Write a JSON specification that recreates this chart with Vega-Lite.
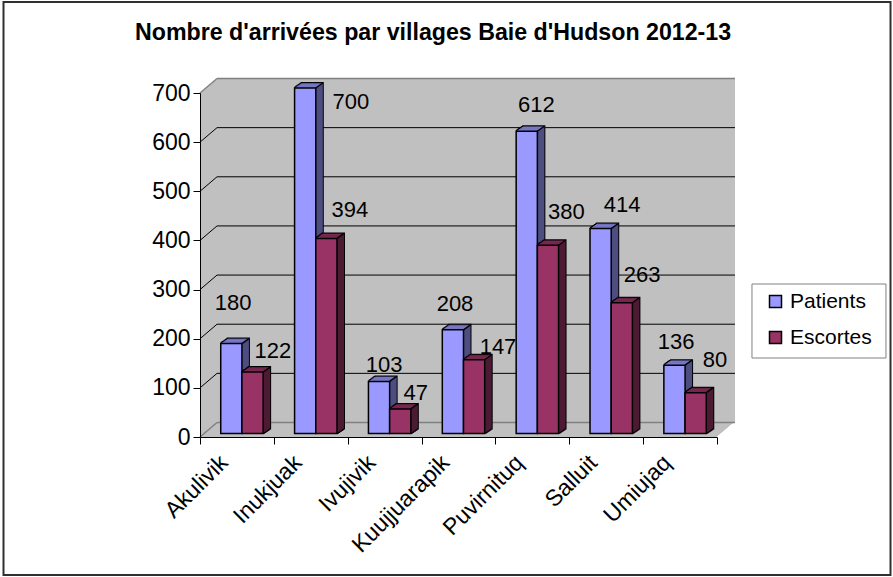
{
"$schema":"https://vega.github.io/schema/vega-lite/v6.json",
"width":517,"height":344,
"autosize":{"type":"none"},
"padding":{"left":200,"top":93,"right":176,"bottom":140},
"background":"#ffffff",
"config":{"view":{"stroke":null},"font":"Liberation Sans"},
"title":{"text":"Nombre d'arrivées par villages Baie d'Hudson 2012-13","font":"Liberation Sans","fontSize":23.2,"fontWeight":"bold","color":"#000000","anchor":"start","frame":"group","dx":-65,"offset":-44},
"data":{"values":[
{"village":"Akulivik","serie":"Patients","value":180},{"village":"Akulivik","serie":"Escortes","value":122},
{"village":"Inukjuak","serie":"Patients","value":700},{"village":"Inukjuak","serie":"Escortes","value":394},
{"village":"Ivujivik","serie":"Patients","value":103},{"village":"Ivujivik","serie":"Escortes","value":47},
{"village":"Kuujjuarapik","serie":"Patients","value":208},{"village":"Kuujjuarapik","serie":"Escortes","value":147},
{"village":"Puvirnituq","serie":"Patients","value":612},{"village":"Puvirnituq","serie":"Escortes","value":380},
{"village":"Salluit","serie":"Patients","value":414},{"village":"Salluit","serie":"Escortes","value":263},
{"village":"Umiujaq","serie":"Patients","value":136},{"village":"Umiujaq","serie":"Escortes","value":80}
]},
"encoding":{
"x":{"field":"village","type":"nominal","sort":null,"scale":{"domain":["Akulivik","Inukjuak","Ivujivik","Kuujjuarapik","Puvirnituq","Salluit","Umiujaq"],"paddingInner":0,"paddingOuter":0},"title":null,
"axis":{"zindex":1,"labelAngle":-45,"labelFontSize":23,"labelFont":"Liberation Sans","labelColor":"#000000","tickColor":"#000000","domainColor":"#000000","tickSize":7,"tickBand":"extent","labelPadding":7,"labelAlign":"right","labelBaseline":"top","labelOffset":-21,"grid":false,"labelOverlap":false}},
"y":{"field":"value","type":"quantitative","scale":{"domain":[0,700],"nice":false},"title":null,
"axis":{"zindex":1,"values":[0,100,200,300,400,500,600,700],"labelFontSize":23,"labelFont":"Liberation Sans","labelColor":"#000000","tickColor":"#000000","domainColor":"#000000","tickSize":7,"labelPadding":3,"grid":false}}
},
"layer":[
{"data":{"values":[{"village":"Kuujjuarapik","value":700}]},
"layer":[
{"mark":{"type":"bar","width":887,"fill":"#ffffff","stroke":"#303030","strokeWidth":2,"xOffset":-11.5,"yOffset":-91,"y2Offset":138},"encoding":{"y2":{"datum":0}}},
{"mark":{"type":"bar","width":517,"fill":"#C0C0C0","xOffset":0,"yOffset":0,"y2Offset":0},"encoding":{"y2":{"datum":0}}},
{"mark":{"type":"bar","width":517,"fill":"#C0C0C0","xOffset":1,"yOffset":-0.85,"y2Offset":-0.85},"encoding":{"y2":{"datum":0}}},
{"mark":{"type":"bar","width":517,"fill":"#C0C0C0","xOffset":2,"yOffset":-1.7,"y2Offset":-1.7},"encoding":{"y2":{"datum":0}}},
{"mark":{"type":"bar","width":517,"fill":"#C0C0C0","xOffset":3,"yOffset":-2.55,"y2Offset":-2.55},"encoding":{"y2":{"datum":0}}},
{"mark":{"type":"bar","width":517,"fill":"#C0C0C0","xOffset":4,"yOffset":-3.4,"y2Offset":-3.4},"encoding":{"y2":{"datum":0}}},
{"mark":{"type":"bar","width":517,"fill":"#C0C0C0","xOffset":5,"yOffset":-4.25,"y2Offset":-4.25},"encoding":{"y2":{"datum":0}}},
{"mark":{"type":"bar","width":517,"fill":"#C0C0C0","xOffset":6,"yOffset":-5.1,"y2Offset":-5.1},"encoding":{"y2":{"datum":0}}},
{"mark":{"type":"bar","width":517,"fill":"#C0C0C0","xOffset":7,"yOffset":-5.95,"y2Offset":-5.95},"encoding":{"y2":{"datum":0}}},
{"mark":{"type":"bar","width":517,"fill":"#C0C0C0","xOffset":8,"yOffset":-6.8,"y2Offset":-6.8},"encoding":{"y2":{"datum":0}}},
{"mark":{"type":"bar","width":517,"fill":"#C0C0C0","xOffset":9,"yOffset":-7.65,"y2Offset":-7.65},"encoding":{"y2":{"datum":0}}},
{"mark":{"type":"bar","width":517,"fill":"#C0C0C0","xOffset":10,"yOffset":-8.5,"y2Offset":-8.5},"encoding":{"y2":{"datum":0}}},
{"mark":{"type":"bar","width":517,"fill":"#C0C0C0","xOffset":11,"yOffset":-9.35,"y2Offset":-9.35},"encoding":{"y2":{"datum":0}}},
{"mark":{"type":"bar","width":517,"fill":"#C0C0C0","xOffset":12,"yOffset":-10.2,"y2Offset":-10.2},"encoding":{"y2":{"datum":0}}},
{"mark":{"type":"bar","width":517,"fill":"#C0C0C0","xOffset":13,"yOffset":-11.05,"y2Offset":-11.05},"encoding":{"y2":{"datum":0}}},
{"mark":{"type":"bar","width":517,"fill":"#C0C0C0","xOffset":14,"yOffset":-11.9,"y2Offset":-11.9},"encoding":{"y2":{"datum":0}}},
{"mark":{"type":"bar","width":517,"fill":"#C0C0C0","xOffset":15,"yOffset":-12.75,"y2Offset":-12.75},"encoding":{"y2":{"datum":0}}},
{"mark":{"type":"bar","width":517,"fill":"#C0C0C0","xOffset":16,"yOffset":-13.6,"y2Offset":-13.6},"encoding":{"y2":{"datum":0}}},
{"mark":{"type":"bar","width":518,"fill":"#C0C0C0","xOffset":17.5,"yOffset":-14.5,"y2Offset":-14.5},"encoding":{"y2":{"datum":0}}}
]},
{"data":{"values":[{"village":"Umiujaq","value":0}]},
"mark":{"type":"bar","width":134,"fill":"#ffffff","stroke":"#808080","strokeWidth":1,"xOffset":138.9,"yOffset":-153,"y2Offset":-79},"encoding":{"y2":{"datum":0}}},
{"data":{"values":[{"g":100},{"g":200},{"g":300},{"g":400},{"g":500},{"g":600}]},
"layer":[
{"mark":{"type":"rule","color":"#000000","strokeWidth":1,"xOffset":-36.9,"x2Offset":-19.9,"yOffset":0,"y2Offset":-14.5},"encoding":{"x":{"datum":"Akulivik"},"x2":{"datum":"Akulivik"},"y":{"field":"g","type":"quantitative"},"y2":{"field":"g"}}},
{"mark":{"type":"rule","color":"#000000","strokeWidth":1,"xOffset":-19.9,"x2Offset":54.9,"yOffset":-14.5,"y2Offset":-14.5},"encoding":{"x":{"datum":"Akulivik"},"x2":{"datum":"Umiujaq"},"y":{"field":"g","type":"quantitative"},"y2":{"field":"g"}}}
]},
{"data":{"values":[{"g":0},{"g":700}]},
"layer":[
{"mark":{"type":"rule","color":"#808080","strokeWidth":1.5,"xOffset":-36.9,"x2Offset":-19.9,"yOffset":0,"y2Offset":-14.5},"encoding":{"x":{"datum":"Akulivik"},"x2":{"datum":"Akulivik"},"y":{"field":"g","type":"quantitative"},"y2":{"field":"g"}}},
{"mark":{"type":"rule","color":"#808080","strokeWidth":1.5,"xOffset":-19.9,"x2Offset":54.9,"yOffset":-14.5,"y2Offset":-14.5},"encoding":{"x":{"datum":"Akulivik"},"x2":{"datum":"Umiujaq"},"y":{"field":"g","type":"quantitative"},"y2":{"field":"g"}}},
{"mark":{"type":"rule","color":"#808080","strokeWidth":1.5,"xOffset":-19.9,"x2Offset":-19.9,"yOffset":-14.5,"y2Offset":-14.5},"encoding":{"x":{"datum":"Akulivik"},"x2":{"datum":"Akulivik"},"y":{"datum":0},"y2":{"datum":700}}},
{"mark":{"type":"rule","color":"#808080","strokeWidth":1.5,"xOffset":54.9,"x2Offset":54.9,"yOffset":-14.5,"y2Offset":-14.5},"encoding":{"x":{"datum":"Umiujaq"},"x2":{"datum":"Umiujaq"},"y":{"datum":0},"y2":{"datum":700}}},
{"mark":{"type":"rule","color":"#808080","strokeWidth":1.5,"xOffset":36.9,"x2Offset":54.9,"yOffset":0,"y2Offset":-14.5},"encoding":{"x":{"datum":"Umiujaq"},"x2":{"datum":"Umiujaq"},"y":{"datum":0},"y2":{"datum":0}}}
]},
{"transform":[{"filter":"datum.serie=='Patients'"}],
"layer":[
{"mark":{"type":"bar","width":21.2,"fill":"#000","stroke":"#000","strokeWidth":2,"xOffset":-4.6,"yOffset":-5.71,"y2Offset":-4.21},"encoding":{"y2":{"datum":0}}},
{"mark":{"type":"bar","width":21.2,"fill":"#000","stroke":"#000","strokeWidth":2,"xOffset":-3.6,"yOffset":-6.43,"y2Offset":-4.93},"encoding":{"y2":{"datum":0}}},
{"mark":{"type":"bar","width":21.2,"fill":"#000","stroke":"#000","strokeWidth":2,"xOffset":-2.6,"yOffset":-7.14,"y2Offset":-5.64},"encoding":{"y2":{"datum":0}}},
{"mark":{"type":"bar","width":21.2,"fill":"#000","stroke":"#000","strokeWidth":2,"xOffset":-1.6,"yOffset":-7.86,"y2Offset":-6.36},"encoding":{"y2":{"datum":0}}},
{"mark":{"type":"bar","width":21.2,"fill":"#000","stroke":"#000","strokeWidth":2,"xOffset":-0.6,"yOffset":-8.57,"y2Offset":-7.07},"encoding":{"y2":{"datum":0}}},
{"mark":{"type":"bar","width":21.2,"fill":"#000","stroke":"#000","strokeWidth":2,"xOffset":0.4,"yOffset":-9.29,"y2Offset":-7.79},"encoding":{"y2":{"datum":0}}},
{"mark":{"type":"bar","width":21.2,"fill":"#000","stroke":"#000","strokeWidth":2,"xOffset":1.4,"yOffset":-10,"y2Offset":-8.5},"encoding":{"y2":{"datum":0}}},
{"mark":{"type":"bar","width":21.2,"fill":"#4D4D80","xOffset":-4.6,"yOffset":-5.71,"y2Offset":-4.21},"encoding":{"y2":{"datum":0}}},
{"mark":{"type":"bar","width":21.2,"fill":"#4D4D80","xOffset":-3.6,"yOffset":-6.43,"y2Offset":-4.93},"encoding":{"y2":{"datum":0}}},
{"mark":{"type":"bar","width":21.2,"fill":"#4D4D80","xOffset":-2.6,"yOffset":-7.14,"y2Offset":-5.64},"encoding":{"y2":{"datum":0}}},
{"mark":{"type":"bar","width":21.2,"fill":"#4D4D80","xOffset":-1.6,"yOffset":-7.86,"y2Offset":-6.36},"encoding":{"y2":{"datum":0}}},
{"mark":{"type":"bar","width":21.2,"fill":"#4D4D80","xOffset":-0.6,"yOffset":-8.57,"y2Offset":-7.07},"encoding":{"y2":{"datum":0}}},
{"mark":{"type":"bar","width":21.2,"fill":"#4D4D80","xOffset":0.4,"yOffset":-9.29,"y2Offset":-7.79},"encoding":{"y2":{"datum":0}}},
{"mark":{"type":"bar","width":21.2,"fill":"#4D4D80","xOffset":1.4,"yOffset":-10,"y2Offset":-8.5},"encoding":{"y2":{"datum":0}}},
{"mark":{"type":"bar","width":21.2,"fill":"#7A7ACC","xOffset":-4.6,"yOffset":-5.71,"y2Offset":-4.71},"encoding":{"y2":{"field":"value"}}},
{"mark":{"type":"bar","width":21.2,"fill":"#7A7ACC","xOffset":-3.6,"yOffset":-6.43,"y2Offset":-5.43},"encoding":{"y2":{"field":"value"}}},
{"mark":{"type":"bar","width":21.2,"fill":"#7A7ACC","xOffset":-2.6,"yOffset":-7.14,"y2Offset":-6.14},"encoding":{"y2":{"field":"value"}}},
{"mark":{"type":"bar","width":21.2,"fill":"#7A7ACC","xOffset":-1.6,"yOffset":-7.86,"y2Offset":-6.86},"encoding":{"y2":{"field":"value"}}},
{"mark":{"type":"bar","width":21.2,"fill":"#7A7ACC","xOffset":-0.6,"yOffset":-8.57,"y2Offset":-7.57},"encoding":{"y2":{"field":"value"}}},
{"mark":{"type":"bar","width":21.2,"fill":"#7A7ACC","xOffset":0.4,"yOffset":-9.29,"y2Offset":-8.29},"encoding":{"y2":{"field":"value"}}},
{"mark":{"type":"rule","color":"#000","strokeWidth":1.5,"xOffset":5,"x2Offset":12,"yOffset":-5,"y2Offset":-10},"encoding":{"x2":{"field":"village"},"y2":{"field":"value"}}},
{"mark":{"type":"bar","width":21.2,"stroke":"#000","strokeWidth":1.5,"xOffset":-5.6,"yOffset":-5,"y2Offset":-3.5},"encoding":{"y2":{"datum":0},"color":{"field":"serie","type":"nominal","scale":{"domain":["Patients","Escortes"],"range":["#9999FF","#993366"]},"legend":{"orient":"none","legendX":552,"legendY":185,"title":null,"padding":13,"symbolType":"square","symbolSize":144,"symbolStrokeColor":"#000000","symbolStrokeWidth":1.5,"labelFontSize":21,"labelFont":"Liberation Sans","labelColor":"#000000","rowPadding":14}}}}
]},
{"transform":[{"filter":"datum.serie=='Escortes'"}],
"layer":[
{"mark":{"type":"bar","width":21.2,"fill":"#000","stroke":"#000","strokeWidth":2,"xOffset":16.6,"yOffset":-5.71,"y2Offset":-4.21},"encoding":{"y2":{"datum":0}}},
{"mark":{"type":"bar","width":21.2,"fill":"#000","stroke":"#000","strokeWidth":2,"xOffset":17.6,"yOffset":-6.43,"y2Offset":-4.93},"encoding":{"y2":{"datum":0}}},
{"mark":{"type":"bar","width":21.2,"fill":"#000","stroke":"#000","strokeWidth":2,"xOffset":18.6,"yOffset":-7.14,"y2Offset":-5.64},"encoding":{"y2":{"datum":0}}},
{"mark":{"type":"bar","width":21.2,"fill":"#000","stroke":"#000","strokeWidth":2,"xOffset":19.6,"yOffset":-7.86,"y2Offset":-6.36},"encoding":{"y2":{"datum":0}}},
{"mark":{"type":"bar","width":21.2,"fill":"#000","stroke":"#000","strokeWidth":2,"xOffset":20.6,"yOffset":-8.57,"y2Offset":-7.07},"encoding":{"y2":{"datum":0}}},
{"mark":{"type":"bar","width":21.2,"fill":"#000","stroke":"#000","strokeWidth":2,"xOffset":21.6,"yOffset":-9.29,"y2Offset":-7.79},"encoding":{"y2":{"datum":0}}},
{"mark":{"type":"bar","width":21.2,"fill":"#000","stroke":"#000","strokeWidth":2,"xOffset":22.6,"yOffset":-10,"y2Offset":-8.5},"encoding":{"y2":{"datum":0}}},
{"mark":{"type":"bar","width":21.2,"fill":"#4D1A33","xOffset":16.6,"yOffset":-5.71,"y2Offset":-4.21},"encoding":{"y2":{"datum":0}}},
{"mark":{"type":"bar","width":21.2,"fill":"#4D1A33","xOffset":17.6,"yOffset":-6.43,"y2Offset":-4.93},"encoding":{"y2":{"datum":0}}},
{"mark":{"type":"bar","width":21.2,"fill":"#4D1A33","xOffset":18.6,"yOffset":-7.14,"y2Offset":-5.64},"encoding":{"y2":{"datum":0}}},
{"mark":{"type":"bar","width":21.2,"fill":"#4D1A33","xOffset":19.6,"yOffset":-7.86,"y2Offset":-6.36},"encoding":{"y2":{"datum":0}}},
{"mark":{"type":"bar","width":21.2,"fill":"#4D1A33","xOffset":20.6,"yOffset":-8.57,"y2Offset":-7.07},"encoding":{"y2":{"datum":0}}},
{"mark":{"type":"bar","width":21.2,"fill":"#4D1A33","xOffset":21.6,"yOffset":-9.29,"y2Offset":-7.79},"encoding":{"y2":{"datum":0}}},
{"mark":{"type":"bar","width":21.2,"fill":"#4D1A33","xOffset":22.6,"yOffset":-10,"y2Offset":-8.5},"encoding":{"y2":{"datum":0}}},
{"mark":{"type":"bar","width":21.2,"fill":"#7A2952","xOffset":16.6,"yOffset":-5.71,"y2Offset":-4.71},"encoding":{"y2":{"field":"value"}}},
{"mark":{"type":"bar","width":21.2,"fill":"#7A2952","xOffset":17.6,"yOffset":-6.43,"y2Offset":-5.43},"encoding":{"y2":{"field":"value"}}},
{"mark":{"type":"bar","width":21.2,"fill":"#7A2952","xOffset":18.6,"yOffset":-7.14,"y2Offset":-6.14},"encoding":{"y2":{"field":"value"}}},
{"mark":{"type":"bar","width":21.2,"fill":"#7A2952","xOffset":19.6,"yOffset":-7.86,"y2Offset":-6.86},"encoding":{"y2":{"field":"value"}}},
{"mark":{"type":"bar","width":21.2,"fill":"#7A2952","xOffset":20.6,"yOffset":-8.57,"y2Offset":-7.57},"encoding":{"y2":{"field":"value"}}},
{"mark":{"type":"bar","width":21.2,"fill":"#7A2952","xOffset":21.6,"yOffset":-9.29,"y2Offset":-8.29},"encoding":{"y2":{"field":"value"}}},
{"mark":{"type":"rule","color":"#000","strokeWidth":1.5,"xOffset":26.2,"x2Offset":33.2,"yOffset":-5,"y2Offset":-10},"encoding":{"x2":{"field":"village"},"y2":{"field":"value"}}},
{"mark":{"type":"bar","width":21.2,"stroke":"#000","strokeWidth":1.5,"xOffset":15.6,"yOffset":-5,"y2Offset":-3.5},"encoding":{"y2":{"datum":0},"color":{"field":"serie","type":"nominal"}}}
]},
{"encoding":{"text":{"field":"value","type":"quantitative"}},
"layer":[
{"transform":[{"filter":"datum.serie=='Patients'&&datum.village=='Akulivik'"}],"mark":{"type":"text","fontSize":22,"font":"Liberation Sans","color":"#000","dx":-3.9,"dy":-45.5}},
{"transform":[{"filter":"datum.serie=='Patients'&&datum.village=='Inukjuak'"}],"mark":{"type":"text","fontSize":22,"font":"Liberation Sans","color":"#000","dx":40,"dy":9}},
{"transform":[{"filter":"datum.serie=='Patients'&&datum.village=='Ivujivik'"}],"mark":{"type":"text","fontSize":22,"font":"Liberation Sans","color":"#000","dx":-0.6,"dy":-21}},
{"transform":[{"filter":"datum.serie=='Patients'&&datum.village=='Kuujjuarapik'"}],"mark":{"type":"text","fontSize":22,"font":"Liberation Sans","color":"#000","dx":-3.5,"dy":-31}},
{"transform":[{"filter":"datum.serie=='Patients'&&datum.village=='Puvirnituq'"}],"mark":{"type":"text","fontSize":22,"font":"Liberation Sans","color":"#000","dx":4,"dy":-31}},
{"transform":[{"filter":"datum.serie=='Patients'&&datum.village=='Salluit'"}],"mark":{"type":"text","fontSize":22,"font":"Liberation Sans","color":"#000","dx":16,"dy":-29}},
{"transform":[{"filter":"datum.serie=='Patients'&&datum.village=='Umiujaq'"}],"mark":{"type":"text","fontSize":22,"font":"Liberation Sans","color":"#000","dx":-4,"dy":-28}},
{"transform":[{"filter":"datum.serie=='Escortes'&&datum.village=='Akulivik'"}],"mark":{"type":"text","fontSize":22,"font":"Liberation Sans","color":"#000","dx":36,"dy":-26}},
{"transform":[{"filter":"datum.serie=='Escortes'&&datum.village=='Inukjuak'"}],"mark":{"type":"text","fontSize":22,"font":"Liberation Sans","color":"#000","dx":39,"dy":-33}},
{"transform":[{"filter":"datum.serie=='Escortes'&&datum.village=='Ivujivik'"}],"mark":{"type":"text","fontSize":22,"font":"Liberation Sans","color":"#000","dx":31,"dy":-21}},
{"transform":[{"filter":"datum.serie=='Escortes'&&datum.village=='Kuujjuarapik'"}],"mark":{"type":"text","fontSize":22,"font":"Liberation Sans","color":"#000","dx":39.5,"dy":-18}},
{"transform":[{"filter":"datum.serie=='Escortes'&&datum.village=='Puvirnituq'"}],"mark":{"type":"text","fontSize":22,"font":"Liberation Sans","color":"#000","dx":34,"dy":-38}},
{"transform":[{"filter":"datum.serie=='Escortes'&&datum.village=='Salluit'"}],"mark":{"type":"text","fontSize":22,"font":"Liberation Sans","color":"#000","dx":36,"dy":-33}},
{"transform":[{"filter":"datum.serie=='Escortes'&&datum.village=='Umiujaq'"}],"mark":{"type":"text","fontSize":22,"font":"Liberation Sans","color":"#000","dx":35,"dy":-38}}
]}
]
}
